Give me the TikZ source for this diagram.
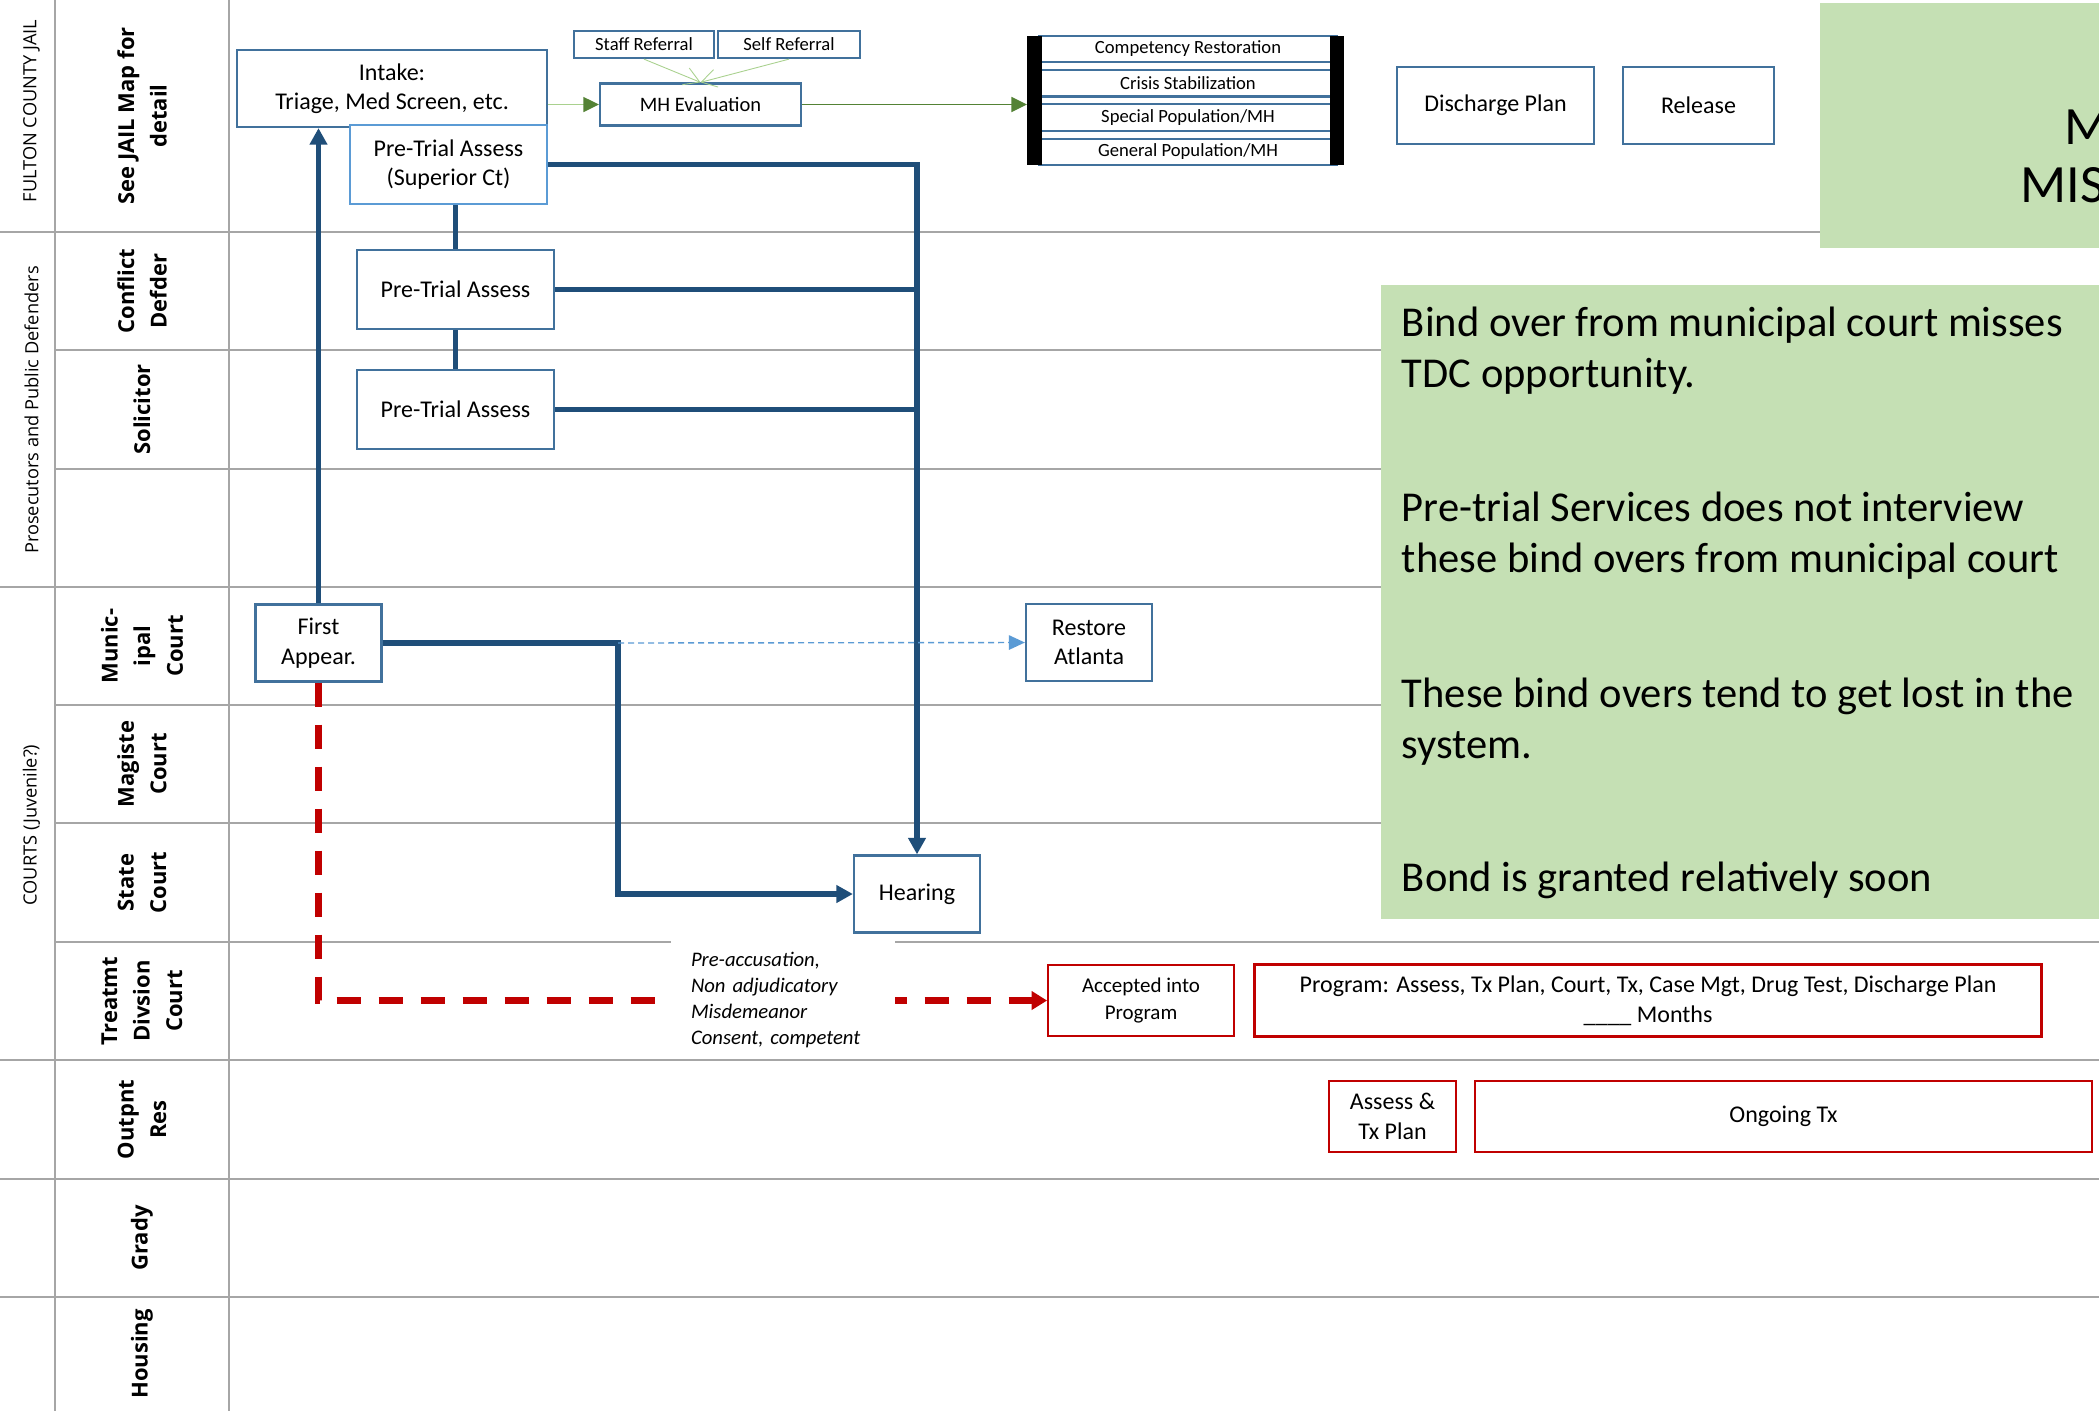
\documentclass[tikz,border=0pt]{standalone}
\usepackage{fontspec}
\setmainfont{Carlito}
\newfontfamily\lanefont{Open Sans}
\usetikzlibrary{arrows.meta,positioning,calc}
\definecolor{steel}{RGB}{65,113,156}
\definecolor{sky}{RGB}{91,155,213}
\definecolor{navy}{RGB}{31,78,121}
\definecolor{blood}{RGB}{192,0,0}
\definecolor{moss}{RGB}{84,130,53}
\definecolor{mint}{RGB}{169,209,142}
\definecolor{sage}{RGB}{197,224,180}
\definecolor{rule}{RGB}{166,166,166}
\tikzset{
  box/.style={draw=#1,line width=1.3pt,fill=white,align=center,inner sep=1pt,
    font=\fontsize{13.66}{16.8}\selectfont},
  box/.default=steel,
  rbox/.style={box=blood,font=\fontsize{11.95}{15.2}\selectfont},
  tiny box/.style={box,font=\fontsize{10.6}{12.9}\selectfont},
  lane/.style={rotate=90,align=center,inner sep=0pt,
    font=\lanefont\bfseries\fontsize{12.5}{18.5}\selectfont},
  group/.style={rotate=90,inner sep=0pt,font=\lanefont\fontsize{10.36}{12.5}\selectfont},
  grid/.style={draw=rule,line width=1.4pt},
  note/.style={fill=sage,inner sep=0pt},
  remark/.style={anchor=west,inner sep=0pt,align=left,font=\fontsize{24.2}{29.2}\selectfont},
  aside/.style={fill=white,minimum width=4.48cm,minimum height=2.36cm,text width=3.68cm,
    inner xsep=0.4cm,inner ysep=0pt,align=left,font=\itshape\fontsize{11.78}{14.7}\selectfont},
  link/.style={draw=navy,line width=3.2pt},
  flow/.style={link,-{Triangle[length=3.3mm,width=3.4mm]}},
  hint/.style={draw=sky,line width=0.8pt,dash pattern=on 1.2mm off 0.8mm,
    -{Triangle[length=3.2mm,width=2.9mm]}},
  jump/.style={draw=blood,line width=3.7pt,dash pattern=on 4.8mm off 3.6mm,
    -{Triangle[length=3.1mm,width=3.6mm]}},
  sprig/.style={draw=#1,line width=0.8pt,-{Triangle[length=3.1mm,width=3mm,color=moss]}},
  sprig/.default=moss,
  twig/.style={draw=mint,line width=0.5pt,-{Straight Barb[length=3mm,width=3.6mm]}},
}

\begin{document}
\begin{tikzpicture}
    \useasboundingbox (0,0) rectangle (41.98,-28.22);
    \clip (0,0) rectangle (41.98,-28.22);
    \fill[white] (0,0) rectangle (41.98,-28.22);
    % swim lanes
    \foreach \y in {4.64,11.74,21.20,23.58,25.94}
      \draw[grid] (0,-\y) -- (41.98,-\y);
    \foreach \y in {7.00,9.38,14.10,16.46,18.84}
      \draw[grid] (1.10,-\y) -- (41.98,-\y);
    \draw[grid] (1.10,0) -- (1.10,-28.22);
    \draw[grid] (4.58,0) -- (4.58,-28.22);
    \node[group] (jail) at (0.63,-2.22) {FULTON COUNTY JAIL};
    \node[group] (pros) at (0.63,-8.20) {Prosecutors and Public Defenders};
    \node[group] (courts) at (0.63,-16.50) {COURTS (Juvenile?)};
    \foreach \y/\t [count=\i] in {2.32/{See JAIL Map for\\detail}, 5.82/{Conflict\\Defder},
      8.19/{Solicitor}, 12.92/{Munic-\\ipal\\Court}, 15.28/{Magiste\\Court}, 17.65/{State\\Court},
      20.02/{Treatmt\\Divsion\\Court}, 22.39/{Outpnt\\Res}, 24.76/{Grady}, 27.08/{Housing}}
      \node[lane] (lane\i) at (2.84,-\y) {\t};
    % notes
    \node[note,anchor=north west,minimum width=6.1cm,minimum height=4.9cm] (memo) at (36.4,-0.06) {};
    \node[anchor=base west,inner sep=0pt,font=\fontsize{30.7}{33}\selectfont] (memoa) at (41.28,-2.89) {M};
    \node[anchor=base west,inner sep=0pt,font=\fontsize{30.7}{33}\selectfont] (memob) at (40.40,-4.04) {MIS};
    \node[note,anchor=north west,minimum width=14.9cm,minimum height=12.67cm] (notes) at (27.62,-5.70) {};
    \foreach \y/\t [count=\i] in {7.01/{Bind over from municipal court misses\\TDC opportunity.},
      10.71/{Pre-trial Services does not interview\\these bind overs from municipal court},
      14.43/{These bind overs tend to get lost in the\\system.},
      17.60/{Bond is granted relatively soon}}
      \node[remark] (rem\i) at (28.03,-\y) {\t};
    % jail
    \node[box,minimum width=6.2cm,minimum height=1.54cm] (intake) at (7.84,-1.77) {Intake:\\Triage, Med Screen, etc.};
    \node[box=sky,minimum width=3.94cm,minimum height=1.58cm] (ptaS) at (8.97,-3.29) {Pre-Trial Assess\\(Superior Ct)};
    \node[tiny box,minimum width=2.80cm,minimum height=0.54cm] (staff) at (12.88,-0.89) {Staff Referral};
    \node[tiny box,minimum width=2.83cm,minimum height=0.54cm] (self) at (15.78,-0.89) {Self Referral};
    \node[box,font=\fontsize{11.67}{14}\selectfont,minimum width=4.02cm,minimum height=0.84cm] (mh) at (14.01,-2.09) {MH Evaluation};
    \foreach \y/\t [count=\i] in {0.98/{Competency Restoration}, 1.666/{Crisis Stabilization},
      2.352/{Special Population/MH}, 3.038/{General Population/MH}}
      \node[tiny box,minimum width=5.96cm,minimum height=0.53cm] (unit\i) at (23.76,-\y) {\t};
    \node[fill=black,inner sep=0pt,minimum width=0.29cm,minimum height=2.58cm] (barL) at (20.69,-2.01) {};
    \node[fill=black,inner sep=0pt,minimum width=0.29cm,minimum height=2.58cm] (barR) at (26.74,-2.01) {};
    \node[box,minimum width=3.95cm,minimum height=1.55cm] (dis) at (29.91,-2.11) {Discharge Plan};
    \node[box,minimum width=3.02cm,minimum height=1.55cm] (rel) at (33.97,-2.11) {Release};
    % prosecutors and courts
    \node[box,minimum width=3.94cm,minimum height=1.58cm] (ptaC) at (9.11,-5.79) {Pre-Trial Assess};
    \node[box,minimum width=3.94cm,minimum height=1.58cm] (ptaL) at (9.11,-8.19) {Pre-Trial Assess};
    \node[box,minimum width=2.52cm,minimum height=1.54cm] (first) at (6.37,-12.86) {First\\Appear.};
    \node[box,minimum width=2.52cm,minimum height=1.54cm] (restore) at (21.78,-12.85) {Restore\\Atlanta};
    \node[box,minimum width=2.52cm,minimum height=1.54cm] (hear) at (18.34,-17.88) {Hearing};
    \node[rbox,minimum width=3.71cm,minimum height=1.42cm] (acc) at (22.82,-20.01) {Accepted into\\Program};
    \node[box=blood,minimum width=15.74cm,minimum height=1.44cm] (prog) at (32.96,-20.01)
      {Program: Assess, Tx Plan, Court, Tx, Case Mgt, Drug Test, Discharge Plan\\\_\_\_\_ Months};
    \node[box=blood,minimum width=2.54cm,minimum height=1.42cm] (atp) at (27.85,-22.33) {Assess \&\\Tx Plan};
    \node[box=blood,minimum width=12.34cm,minimum height=1.42cm] (ongo) at (35.67,-22.33) {Ongoing Tx};
    % connectors
    \draw[sprig=mint] (intake.east |- mh.west) -- (mh.west);
    \draw[sprig] (mh.east) -- (mh.east -| barL.west);
    \draw[twig] (staff.south) -- (mh.north);
    \draw[twig] (self.south) -- (mh.north);
    \draw[flow] (first.north) -- (first.north |- intake.south);
    \draw[link] (ptaC.north |- ptaS.south) -- (ptaC.north);
    \draw[link] (ptaC.south) -- (ptaL.north);
    \draw[flow] (ptaS.east) -| (hear.north);
    \draw[link] (ptaC.east) -- (ptaC.east -| hear.north);
    \draw[link] (ptaL.east) -- (ptaL.east -| hear.north);
    \coordinate (fork) at (12.36,-12.86);
    \draw[flow] (first.east) -- (fork) |- (hear.west);
    \draw[hint] (fork) -- (restore.west);
    \coordinate (bend) at (first.south |- acc.west);
    \draw[jump] (first.south) -- (bend) -- (acc.west);
    \node[aside] (crit) at (15.66,-20.00) {Pre-accusation,\\Non adjudicatory\\Misdemeanor\\Consent, competent};
  \end{tikzpicture}
\end{document}
